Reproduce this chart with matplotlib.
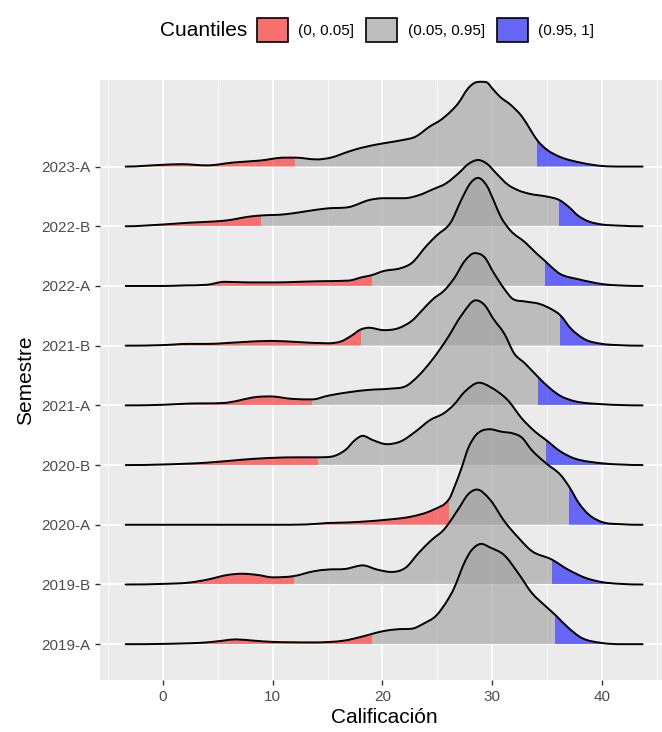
import matplotlib.pyplot as plt
import numpy as np
from matplotlib.path import Path
from matplotlib.patches import PathPatch, Rectangle, Patch

plt.rcParams['font.family'] = ['Liberation Sans', 'DejaVu Sans']

semestres = ['2019-A', '2019-B', '2020-A', '2020-B', '2021-A',
             '2021-B', '2022-A', '2022-B', '2023-A']

# ridge heights (x = calificacion, h = height in row units)
x_2019A = [-3.4, 0, 4.0, 5.5, 6.6, 8.2, 9.8, 13.7, 16.5, 18.2, 19.0, 20.1, 21.4, 22.7, 23.7,
           24.9, 25.9, 26.5, 27.5, 28.1, 29.0, 29.8, 31.1, 32.4, 33.6, 34.9, 35.8, 36.9,
           38.2, 40.0, 41.7, 43.7]
h_2019A = [0, 0.005, 0.03, 0.06, 0.08, 0.06, 0.04, 0.03, 0.06, 0.13, 0.17, 0.22, 0.25, 0.26, 0.34,
           0.48, 0.73, 0.93, 1.38, 1.57, 1.68, 1.62, 1.49, 1.18, 0.86, 0.63, 0.48, 0.28,
           0.10, 0.02, 0.0, 0]

x_2019B = [-3.4, 0, 2.3, 4.0, 5.9, 7.2, 8.6, 10.0, 11.9, 13.7, 15.0, 16.6, 18.2, 19.5, 20.8,
           22.1, 23.3, 24.5, 25.6, 26.9, 27.8, 28.6, 29.8, 31.1, 32.4, 33.6, 35.4, 36.9,
           38.5, 40.0, 41.7, 43.7]
h_2019B = [0, 0.01, 0.03, 0.08, 0.16, 0.18, 0.16, 0.12, 0.14, 0.22, 0.25, 0.26, 0.32, 0.25, 0.21,
           0.28, 0.53, 0.75, 0.92, 1.26, 1.51, 1.59, 1.42, 1.06, 0.78, 0.56, 0.42, 0.25,
           0.11, 0.04, 0.01, 0]

x_2020A = [-3.4, 0, 10.0, 13.0, 15.0, 17.0, 20.1, 22.7, 24.6, 26.1, 26.5, 27.2, 27.8, 28.5,
           29.1, 29.8, 30.8, 31.9, 32.7, 33.6, 34.9, 36.2, 37.0, 37.9, 38.8, 40.1, 41.7, 43.7]
h_2020A = [0, 0.0, 0.0, 0.005, 0.03, 0.04, 0.08, 0.14, 0.25, 0.44, 0.61, 0.95, 1.28, 1.50,
           1.58, 1.60, 1.56, 1.53, 1.46, 1.25, 1.03, 0.84, 0.64, 0.36, 0.17, 0.04, 0.01, 0]

x_2020B = [-3.4, 0, 4.0, 7.2, 9.8, 12.4, 14.1, 15.3, 16.6, 17.5, 18.2, 19.1, 20.4, 21.7, 23.0,
           24.3, 25.6, 26.5, 27.5, 28.8, 29.8, 31.4, 32.7, 33.9, 34.9, 36.2, 37.5, 40.0,
           41.7, 43.7]
h_2020B = [0, 0.01, 0.04, 0.09, 0.12, 0.13, 0.13, 0.14, 0.25, 0.42, 0.49, 0.42, 0.35, 0.40, 0.56,
           0.75, 0.87, 1.01, 1.23, 1.38, 1.31, 1.09, 0.78, 0.56, 0.42, 0.23, 0.11, 0.03,
           0.01, 0]

x_2021A = [-3.4, 0, 2.3, 5.5, 8.5, 9.8, 11.7, 13.6, 15.0, 16.9, 18.8, 20.7, 22.1, 23.3, 24.6,
           25.9, 27.2, 28.5, 29.3, 30.1, 31.1, 32.0, 33.0, 34.2, 35.3, 36.2, 37.5, 40.0, 43.7]
h_2021A = [0, 0.01, 0.03, 0.04, 0.14, 0.15, 0.11, 0.10, 0.16, 0.22, 0.26, 0.28, 0.32, 0.50, 0.78,
           1.12, 1.51, 1.76, 1.68, 1.45, 1.20, 0.87, 0.70, 0.47, 0.28, 0.16, 0.07, 0.02, 0]

x_2021B = [-3.4, 0, 2.3, 4.0, 7.2, 9.8, 12.4, 15.0, 16.2, 17.2, 18.0, 18.8, 20.1, 21.4, 22.7,
           23.6, 24.6, 25.6, 26.5, 27.5, 28.4, 29.3, 30.1, 31.1, 31.9, 33.0, 34.3, 35.4,
           36.2, 37.2, 38.5, 40.0, 41.4, 43.7]
h_2021B = [0, 0.01, 0.03, 0.03, 0.06, 0.08, 0.06, 0.04, 0.07, 0.17, 0.27, 0.30, 0.26, 0.29, 0.42,
           0.59, 0.78, 0.92, 1.12, 1.42, 1.55, 1.48, 1.23, 0.95, 0.78, 0.74, 0.70, 0.61,
           0.51, 0.28, 0.10, 0.03, 0.01, 0]

x_2022A = [-3.4, 0, 2.0, 4.0, 5.6, 7.8, 10.4, 12.4, 14.3, 16.9, 18.2, 19.0, 20.1, 21.7, 22.7,
           24.0, 24.9, 26.2, 27.2, 28.0, 28.7, 29.5, 30.2, 30.8, 31.7, 33.0, 34.0, 34.8,
           35.5, 36.2, 37.9, 40.1, 41.5, 43.7]
h_2022A = [0, 0.0, 0.01, 0.02, 0.07, 0.06, 0.06, 0.07, 0.08, 0.09, 0.15, 0.18, 0.25, 0.30, 0.39,
           0.67, 0.84, 1.06, 1.45, 1.72, 1.81, 1.68, 1.40, 1.15, 0.92, 0.73, 0.55, 0.42,
           0.30, 0.20, 0.11, 0.03, 0.01, 0]

x_2022B = [-3.4, 0, 2.4, 4.6, 5.9, 7.8, 8.9, 11.1, 13.0, 15.0, 16.9, 18.8, 20.1, 22.0, 23.3,
           24.6, 25.8, 27.0, 27.8, 28.7, 29.5, 30.4, 31.4, 32.4, 33.5, 34.9, 36.1, 37.0,
           37.8, 38.8, 40.0, 41.7, 43.7]
h_2022B = [0, 0.03, 0.06, 0.08, 0.10, 0.16, 0.18, 0.20, 0.25, 0.30, 0.32, 0.44, 0.47, 0.47, 0.52,
           0.62, 0.72, 0.90, 1.04, 1.11, 1.05, 0.88, 0.70, 0.60, 0.54, 0.50, 0.44, 0.32,
           0.18, 0.08, 0.03, 0.01, 0]

x_2023A = [-3.4, 0, 1.7, 4.0, 6.5, 8.8, 11.1, 12.0, 14.0, 15.3, 16.9, 18.2, 20.1, 21.7, 23.0,
           24.3, 25.3, 26.2, 26.9, 27.8, 28.5, 29.0, 29.5, 30.0, 30.7, 31.7, 32.7, 33.5,
           34.1, 35.0, 36.2, 38.2, 40.0, 41.7, 43.7]
h_2023A = [0, 0.03, 0.04, 0.02, 0.07, 0.10, 0.15, 0.15, 0.12, 0.15, 0.25, 0.32, 0.39, 0.44, 0.50,
           0.67, 0.78, 0.92, 1.06, 1.31, 1.41, 1.42, 1.41, 1.31, 1.17, 1.03, 0.84, 0.61,
           0.44, 0.28, 0.16, 0.06, 0.01, 0.0, 0]

# 5% and 95% quantiles per semester
q05 = [19.0, 11.9, 26.1, 14.1, 13.6, 18.0, 19.0, 8.9, 12.0]
q95 = [35.7, 35.4, 37.0, 34.9, 34.2, 36.2, 34.8, 36.1, 34.1]

xs_all = [x_2019A, x_2019B, x_2020A, x_2020B, x_2021A, x_2021B, x_2022A, x_2022B, x_2023A]
hs_all = [h_2019A, h_2019B, h_2020A, h_2020B, h_2021A, h_2021B, h_2022A, h_2022B, h_2023A]

cuantiles = ['(0, 0.05]', '(0.05, 0.95]', '(0.95, 1]']
fill_cols = ['#FF2828', '#A0A0A0', '#1818FB']
key_cols = ['#F87070', '#BEBEBE', '#6666F5']


def ridge_verts(xs, hs, base):
    # smooth (monotone cubic) bezier through the read points
    xs = np.asarray(xs, float)
    hs = np.asarray(hs, float)
    d = np.diff(hs) / np.diff(xs)
    m = np.zeros(len(xs))
    for i in range(1, len(xs) - 1):
        if d[i - 1] * d[i] > 0:
            m[i] = (d[i - 1] + d[i]) / 2
            m[i] = np.sign(m[i]) * min(abs(m[i]), 3 * abs(d[i - 1]), 3 * abs(d[i]))
    verts = [(xs[0], base + hs[0])]
    for i in range(len(xs) - 1):
        dx = xs[i + 1] - xs[i]
        verts += [(xs[i] + dx / 3, base + hs[i] + m[i] * dx / 3),
                  (xs[i + 1] - dx / 3, base + hs[i + 1] - m[i + 1] * dx / 3),
                  (xs[i + 1], base + hs[i + 1])]
    codes = [Path.MOVETO] + [Path.CURVE4] * (3 * (len(xs) - 1))
    return verts, codes


fig = plt.figure(figsize=(6.62, 7.32), dpi=100)
W, H = 662, 732
x_lo, x_hi = -5.75, 46.05
px = 10.975
left = 163 + x_lo * px
ax = fig.add_axes([left / W, 52 / H, (x_hi - x_lo) * px / W, 600 / H])
ax.set_facecolor('#EBEBEB')
for s in ax.spines.values():
    s.set_visible(False)

n = len(semestres)
for idx in range(n):
    base = idx + 1
    xs, hs = xs_all[idx], hs_all[idx]
    verts, codes = ridge_verts(xs, hs, base)
    z = 3 + (n - idx)
    shape = PathPatch(Path(verts + [(xs[-1], base), (xs[0], base), (xs[0], base)],
                           codes + [Path.LINETO, Path.LINETO, Path.CLOSEPOLY]),
                      facecolor='none', edgecolor='none', zorder=z)
    ax.add_patch(shape)
    edges = [xs[0], q05[idx], q95[idx], xs[-1]]
    for k in range(3):
        r = Rectangle((edges[k], base), edges[k + 1] - edges[k], 3,
                      facecolor=fill_cols[k], alpha=0.627, edgecolor='none', zorder=z)
        ax.add_patch(r)
        r.set_clip_path(shape)
    ax.add_patch(PathPatch(Path(verts, codes), fill=False, edgecolor='black',
                           lw=1.4, zorder=z + 0.5, capstyle='round'))

ax.set_xlim(x_lo, x_hi)
ax.set_ylim(0.4, 10.45)
ax.set_xticks([0, 10, 20, 30, 40])
ax.set_xticks([-5, 5, 15, 25, 35, 45], minor=True)
ax.set_yticks(range(1, n + 1))
ax.set_yticklabels(semestres)
ax.grid(which='major', color='white', lw=1.3, zorder=0)
ax.grid(which='minor', axis='x', color='white', lw=0.6, zorder=0)
ax.set_axisbelow(True)
ax.tick_params(which='major', length=3.5, width=1, color='#333333',
               labelcolor='#4D4D4D', labelsize=11)
ax.tick_params(which='minor', length=0)
ax.set_xlabel('Calificación', fontsize=15, labelpad=3)
ax.set_ylabel('Semestre', fontsize=15, labelpad=4)

handles = [Patch(facecolor=c, edgecolor='black', lw=1.2) for c in key_cols]
fig.text(247 / W, 1 - 30 / H, 'Cuantiles', ha='right', va='center', fontsize=15)
fig.legend(handles, cuantiles, loc='center left', bbox_to_anchor=(257 / W, 1 - 30 / H),
           ncol=3, frameon=False, fontsize=11, handlelength=2.0, handleheight=2.1,
           handletextpad=0.7, columnspacing=0.8, borderpad=0, borderaxespad=0)

fig.savefig('out.png', dpi=100)
